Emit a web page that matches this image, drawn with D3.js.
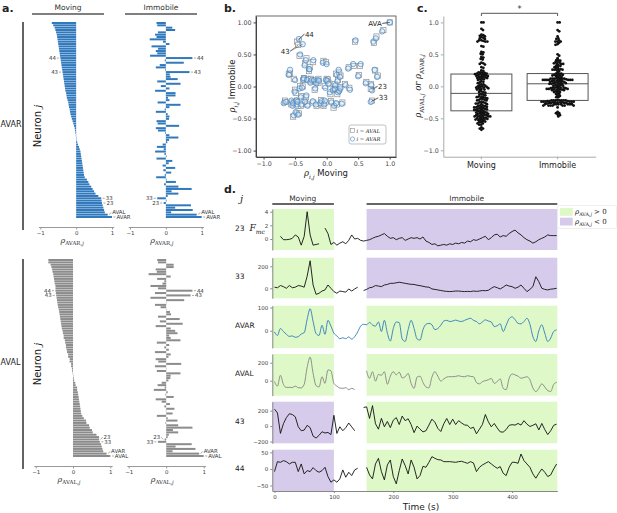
<!DOCTYPE html>
<html>
<head>
<meta charset="utf-8">
<script src="https://cdn.jsdelivr.net/npm/d3@7"></script>
<style>
  body { margin: 0; background: #fff; }
  svg { display: block; font-family: 'DejaVu Sans', sans-serif; }
</style>
</head>
<body>
<svg width="617" height="513"></svg>
<script>
// neurons, in order of rho(AVAR, j) while moving
const neuronNames = ['44', '43', '33', '23', 'AVAL', 'AVAR'];
const neuronRanks = [15, 21, 75, 77, 82, 83];

const avarMoving = [
  -0.68, -0.64, -0.60, -0.58, -0.56, -0.54, -0.53, -0.52, -0.51, -0.50,
  -0.49, -0.48, -0.47, -0.46, -0.45, -0.44, -0.43, -0.42, -0.41, -0.40,
  -0.39, -0.38, -0.37, -0.36, -0.35, -0.34, -0.33, -0.32, -0.31, -0.30,
  -0.28, -0.27, -0.26, -0.24, -0.22, -0.21, -0.20, -0.18, -0.17, -0.16,
  -0.14, -0.12, -0.10, -0.08, -0.06, -0.04, -0.03, -0.02, -0.01, 0.00,
  0.01, 0.03, 0.05, 0.08, 0.10, 0.12, 0.13, 0.14, 0.15, 0.16,
  0.17, 0.18, 0.19, 0.20, 0.21, 0.22, 0.24, 0.30, 0.34, 0.37,
  0.42, 0.46, 0.50, 0.54, 0.62, 0.70, 0.71, 0.72, 0.74, 0.76,
  0.78, 0.80, 0.88, 1.00
];
const avarImmobile = [
  -0.26, -0.24, 0.18, 0.26, -0.22, -0.30, -0.26, -0.45, -0.08, 0.10,
  -0.40, -0.22, -0.28, -0.24, -0.44, 0.74, -0.03, 0.50, -0.17, -0.28,
  -0.02, 0.66, 0.11, 0.13, 0.33, -0.24, 0.41, -0.14, 0.10, -0.30,
  0.27, 0.27, 0.06, 0.10, -0.23, 0.41, 0.10, -0.03, -0.28, 0.05,
  0.10, 0.09, -0.26, -0.23, 0.37, -0.28, -0.22, -0.02, 0.10, 0.35,
  0.09, 0.04, -0.09, -0.25, -0.06, -0.30, -0.04, 0.02, -0.26, 0.18,
  0.08, -0.09, 0.26, -0.07, 0.15, -0.03, -0.27, 0.02, 0.28, -0.05,
  0.35, 0.72, 0.16, 0.35, 0.05, -0.24, 0.02, -0.06, 0.70, 0.26,
  0.75, 0.15, 0.86, 1.00
];
const avalMoving = [
  -0.66, -0.66, -0.58, -0.60, -0.55, -0.56, -0.51, -0.53, -0.50, -0.52,
  -0.47, -0.49, -0.46, -0.47, -0.44, -0.47, -0.42, -0.43, -0.40, -0.41,
  -0.38, -0.45, -0.36, -0.37, -0.34, -0.35, -0.32, -0.33, -0.30, -0.31,
  -0.27, -0.28, -0.25, -0.25, -0.21, -0.22, -0.19, -0.19, -0.16, -0.17,
  -0.13, -0.13, -0.09, -0.09, -0.05, -0.05, -0.02, -0.03, 0.00, -0.01,
  0.02, 0.03, 0.06, 0.07, 0.11, 0.11, 0.14, 0.13, 0.16, 0.15,
  0.18, 0.17, 0.20, 0.19, 0.22, 0.21, 0.25, 0.29, 0.35, 0.36,
  0.43, 0.45, 0.51, 0.53, 0.63, 0.72, 0.70, 0.70, 0.75, 0.77,
  0.79, 0.81, 1.00, 0.90
];
const avalImmobile = [
  -0.24, -0.22, 0.20, 0.20, -0.25, -0.28, -0.24, -0.47, -0.05, 0.12,
  -0.42, -0.10, -0.30, -0.22, -0.42, 0.70, 0.01, 0.48, -0.15, -0.30,
  0.00, 0.65, 0.13, 0.10, 0.36, -0.22, 0.44, -0.17, 0.12, -0.28,
  0.30, 0.24, 0.08, 0.12, -0.25, 0.38, 0.08, -0.05, -0.30, 0.07,
  0.12, 0.06, -0.28, -0.21, 0.40, -0.30, -0.25, 0.01, 0.12, 0.38,
  0.11, 0.06, -0.12, -0.23, -0.04, -0.33, -0.02, 0.04, -0.28, 0.20,
  0.10, -0.12, 0.22, -0.05, 0.17, -0.01, -0.25, 0.04, 0.30, -0.02,
  0.32, 0.70, 0.18, 0.32, 0.07, -0.22, 0.04, -0.04, 0.68, 0.25,
  0.78, 0.17, 1.00, 0.88
];

// time traces (panel d), one sample every 5 s
const sampleTimes = [
  0, 5, 10, 15, 20, 25, 30, 35, 40, 45, 50, 55, 60, 65, 70, 75, 80, 85, 90, 95,
  100, 105, 110, 115, 120, 125, 130, 135, 140, 145, 150, 155, 160, 165, 170, 175, 180, 185, 190, 195,
  200, 205, 210, 215, 220, 225, 230, 235, 240, 245, 250, 255, 260, 265, 270, 275, 280, 285, 290, 295,
  300, 305, 310, 315, 320, 325, 330, 335, 340, 345, 350, 355, 360, 365, 370, 375, 380, 385, 390, 395,
  400, 405, 410, 415, 420, 425, 430, 435, 440, 445, 450, 455, 460, 465, 470, 475
];
const trace23 = [
  null, null, 0.4, -0.1, -0.1, -0.05, 0.1, 0.6, 0.3, -0.9,
  0.4, 4.0, 0.6, -0.9, -0.8, -0.7, null, 1.6, 0.8, -0.8,
  -0.5, -0.9, -0.6, -0.4, -0.7, -0.2, 0.6, 0.0, 0.1, -0.2,
  -0.3, -0.2, -0.1, 0.1, 0.3, 0.4, 0.6, 0.8, 0.4, 0.1,
  0.2, -0.1, 0.1, 0.2, -0.2, 0.0, 0.2, 0.1, 0.2, 0.0,
  0.3, -0.3, -0.5, -0.8, -0.7, -1.0, -0.9, -0.8, -0.9, -0.7,
  -0.8, -0.6, -0.7, -0.5, -0.6, -0.3, -0.4, -0.1, -0.2, 0.0,
  0.2, 0.4, -0.1, 0.2, 0.6, 0.7, 0.3, 0.5, 0.4, 0.8,
  1.1, 1.3, 0.9, 0.6, 0.2, -0.1, -0.3, -0.6, -0.4, -0.1,
  0.1, 0.3, 0.6, 0.5, 0.5, 0.5
];
const trace33 = [
  10, 5, 25, 15, 0, 25, 5, 10, 25, 20,
  10, 110, 250, 30, -55, -45, -25, -15, 30, 0,
  -30, -45, -25, -30, -35, -6, -25, -6, 10, null,
  -20, -10, 5, 10, 25, 20, 15, 30, 35, 45,
  45, 50, 55, 50, 45, 40, 36, 35, 28, 24,
  18, 12, 10, -6, -10, -15, -20, -25, -28, -30,
  -28, -25, -25, -28, -30, -28, -30, -25, -28, -25,
  -20, -22, -18, 0, 15, 5, -6, 10, 30, 20,
  15, 0, 10, 30, 0, -30, -10, 15, 105, 60,
  0, -10, -15, -8, -5, 0
];
const traceAVAR = [
  -5, -20, 10, -3, -15, -24, -22, -28, -25, -14,
  -8, 50, 95, 40, -12, -20, 24, -15, 45, 20,
  -10, -22, -34, -30, -34, -26, -36, -25, -5, 20,
  28, 26, 36, 25, 20, 38, -3, 45, -10, -44,
  10, 38, 35, -35, -46, 5, 45, 10, -35, -40,
  5, 28, 32, 26, 5, 10, 24, 42, 45, 40,
  42, 46, 42, 40, 45, 50, 54, 45, 40, 30,
  38, 47, 42, 38, 18, 22, 30, -3, 24, 52,
  60, 48, 32, 30, 40, 54, 28, -25, -46, 0,
  26, -10, -46, -31, -3, 4
];
const traceAVAL = [
  -10, -60, 60, -41, -75, -74, -76, -60, -78, -80,
  -40, 150, 262, 81, -55, -70, 44, -30, 120, 110,
  -30, -60, -82, -85, -78, -100, -85, -100, null, null,
  null, 110, 26, 100, -5, 70, 60, 100, -40, 50,
  100, 65, 95, 30, 44, 81, -30, -85, 40, 50,
  -20, -70, -80, 40, 100, 50, -5, 20, 40, 45,
  44, 48, 55, 46, 44, 55, 48, 44, -20, -35,
  -11, 0, 10, 25, -30, -10, 20, -85, -100, 26,
  75, 65, 50, 28, 35, 44, 10, -80, -122, -85,
  -35, -70, -110, -120, -41, -18
];
const trace43 = [
  220, 170, -95, 30, 110, 160, 150, 120, -9, -60,
  -52, 10, -20, -130, -155, -120, -73, -90, -82, -110,
  140, -95, -9, -60, -20, 40, -10, -60, null, null,
  240, 250, 99, 265, 30, -40, 100, -9, 60, -20,
  77, 110, 20, 130, 70, 95, 20, -85, 0, -40,
  -75, -60, 13, 90, 50, -30, -70, 30, 99, 20,
  90, 20, 70, 40, 15, 10, -30, -15, -100, -40,
  20, 150, 56, -9, 34, -25, -75, -78, -45, 10,
  18, 13, 34, 13, 70, 25, -5, 10, 30, -50,
  34, -45, -110, -60, 10, 25
];
const trace44 = [
  -8, 22, 20, 25, 22, 15, 20, 20, -8, 15,
  -15, -5, -8, 4, -5, -10, -5, 5, -23, -40,
  -33, -40, -30, -3, -25, -10, -20, -3, 2, null,
  null, 5, -18, -30, 15, 32, -8, -33, 12, 27,
  -23, -45, -5, 30, 10, -15, 27, 5, -30, -20,
  8, 5, 20, 37, 32, 28, 27, 22, 22, 22,
  21, 20, 22, 23, 20, 17, 22, 18, -8, 5,
  12, 17, 22, 15, 8, 2, 7, -13, -20, 5,
  20, 20, 17, 45, 25, 15, 5, -15, -28, -13,
  0, -10, -23, -18, 0, 15
];
const periodNames = ['Moving', 'Immobile'];
const periodStart = [-3.7, 155];
const periodEnd = [100, 476.1];

const svg = d3.select('svg');
const blue = '#3079bc', grey = '#8c8c8c';
const green = '#def8c8', purple = '#d6cbea';
const serif = 'DejaVu Serif, serif';

// text with sub-scripts: parts = [text, isSub, isItalic, isSans]
function mathText(sel, parts, size) {
  let shift = 0;
  parts.forEach(([t, sub, it, sans]) => {
    const target = sub ? size * 0.3 : 0;
    sel.append('tspan')
      .attr('dy', target - shift)
      .attr('font-size', sub ? size * 0.68 : size)
      .attr('font-style', it ? 'italic' : 'normal')
      .attr('font-family', sans ? 'DejaVu Sans, sans-serif' : serif)
      .text(t);
    shift = target;
  });
  return sel;
}

function styleAxis(g, col, fs) {
  g.selectAll('.domain').attr('stroke', col);
  g.selectAll('.tick line').attr('stroke', col);
  g.selectAll('.tick text').attr('fill', '#444').attr('font-size', fs)
    .attr('font-family', 'DejaVu Sans, sans-serif');
}

// panel letters
[['a.', 2, 12], ['b.', 224, 12], ['c.', 417, 12], ['d.', 224, 193]].forEach(([t, x, y]) =>
  svg.append('text').attr('x', x).attr('y', y).attr('font-size', 11)
    .attr('font-weight', 'bold').attr('fill', '#222').text(t));

// ---------- a. ----------
function barBlock(cfg) {
  const idx = d3.range(cfg.moving.length).sort((a, b) => cfg.moving[a] - cfg.moving[b]);
  const y = d3.scaleBand().domain(idx).range([cfg.top, cfg.bottom]).paddingInner(0.15);
  [[cfg.moving, cfg.movingX], [cfg.immobile, cfg.immobileX]].forEach(([vals, xr]) => {
    const x = d3.scaleLinear().domain([-1, 1]).range(xr);
    const g = svg.append('g');
    g.selectAll('rect').data(idx).join('rect')
      .attr('x', i => Math.min(x(0), x(vals[i])))
      .attr('y', i => y(i))
      .attr('width', i => Math.max(0.4, Math.abs(x(vals[i]) - x(0))))
      .attr('height', y.bandwidth())
      .attr('fill', cfg.color);

    const labs = neuronRanks.map((r, k) => ({
      name: neuronNames[k], v: vals[r], yb: y(r) + y.bandwidth() / 2
    }));
    [-1, 1].forEach(side => {
      const s = labs.filter(d => (d.v < 0 ? -1 : 1) === side).sort((a, b) => a.yb - b.yb);
      s.forEach(d => { d.ly = d.yb; });
      for (let i = s.length - 2; i >= 0; i--) {
        if (s[i + 1].ly - s[i].ly < 4.6) s[i].ly = s[i + 1].ly - 4.6;
      }
      s.forEach(d => {
        const x0 = x(d.v);
        g.append('line').attr('x1', x0 + side * 1.5).attr('x2', x0 + side * 3.5)
          .attr('y1', d.yb).attr('y2', d.ly).attr('stroke', '#555').attr('stroke-width', 0.5);
        g.append('text').attr('x', x0 + side * 4.5).attr('y', d.ly + 1.9)
          .attr('text-anchor', side < 0 ? 'end' : 'start')
          .attr('font-size', 5.4).attr('fill', '#333').text(d.name);
      });
    });

    const ax = d3.scaleLinear().domain([-1.05, 1.05]).range([x(-1.05), x(1.05)]);
    const axG = g.append('g').attr('transform', `translate(0,${cfg.axisY})`)
      .call(d3.axisBottom(ax).tickValues([-1, 0, 1]).tickSize(2.5).tickSizeOuter(0)
        .tickPadding(2).tickFormat(d => d < 0 ? '−1' : d));
    styleAxis(axG, '#999', 5.5);
    mathText(g.append('text').attr('x', (xr[0] + xr[1]) / 2 - 4).attr('y', cfg.axisY + 15.5)
      .attr('text-anchor', 'middle').attr('fill', '#333'),
      [['ρ', false, true], [cfg.sub + ',', true, false], ['j', true, true]], 8);
  });

  svg.append('line').attr('x1', 23).attr('x2', 23).attr('y1', cfg.top).attr('y2', cfg.axisY + 3)
    .attr('stroke', '#222').attr('stroke-width', 1.4);
  svg.append('text').attr('x', 0.5).attr('y', cfg.nameY).attr('font-size', 8).attr('fill', '#222')
    .text(cfg.name);
  mathText(svg.append('text')
    .attr('transform', `translate(40.5,${cfg.nameY - 1}) rotate(-90)`)
    .attr('text-anchor', 'middle').attr('fill', '#111'),
    [['Neuron ', false, false, true], ['j', false, true]], 10);
}

barBlock({ moving: avarMoving, immobile: avarImmobile, color: blue, top: 22, bottom: 218,
  axisY: 227, movingX: [40.3, 112], immobileX: [130, 201.7], sub: 'AVAR', name: 'AVAR', nameY: 127 });
barBlock({ moving: avalMoving, immobile: avalImmobile, color: grey, top: 259, bottom: 457,
  axisY: 466, movingX: [35.7, 110.3], immobileX: [128.7, 203.7], sub: 'AVAL', name: 'AVAL', nameY: 365 });

[['Moving', 32, 104], ['Immobile', 125, 197]].forEach(([t, x1, x2]) => {
  svg.append('text').attr('x', (x1 + x2) / 2).attr('y', 10).attr('text-anchor', 'middle')
    .attr('font-size', 7.5).attr('fill', '#333').text(t);
  svg.append('line').attr('x1', x1).attr('x2', x2).attr('y1', 14).attr('y2', 14)
    .attr('stroke', '#555').attr('stroke-width', 1.4);
});

// ---------- b. ----------
{
  const x = d3.scaleLinear().domain([-1.12, 1.1]).range([256, 396]);
  const y = d3.scaleLinear().domain([-1.1, 1.1]).range([157, 16]);
  const g = svg.append('g');
  const xa = g.append('g').attr('transform', 'translate(0,157)')
    .call(d3.axisBottom(x).tickValues([-1, -0.5, 0, 0.5, 1]).tickFormat(d3.format('.1f'))
      .tickSize(2.5).tickSizeOuter(0).tickPadding(2));
  const ya = g.append('g').attr('transform', 'translate(256,0)')
    .call(d3.axisLeft(y).tickValues([-1, -0.5, 0, 0.5, 1]).tickFormat(d3.format('.2f'))
      .tickSize(2.5).tickSizeOuter(0).tickPadding(2));
  styleAxis(xa, '#444', 6.3);
  styleAxis(ya, '#444', 6.3);
  g.append('rect').attr('x', 256).attr('y', 16).attr('width', 140).attr('height', 141)
    .attr('fill', 'none').attr('stroke', '#444').attr('stroke-width', 0.8);

  const idx = d3.range(avarMoving.length);
  g.selectAll('rect.aval').data(idx).join('rect').attr('class', 'aval')
    .attr('x', i => x(avalMoving[i]) - 2.6).attr('y', i => y(avalImmobile[i]) - 2.6)
    .attr('width', 5.2).attr('height', 5.2)
    .attr('fill', 'rgba(255,255,255,0.35)').attr('stroke', '#8f8f8f').attr('stroke-width', 0.7);
  g.selectAll('circle.avar').data(idx).join('circle').attr('class', 'avar')
    .attr('cx', i => x(avarMoving[i])).attr('cy', i => y(avarImmobile[i])).attr('r', 2.7)
    .attr('fill', 'rgba(190,215,240,0.35)').attr('stroke', '#3f86c6').attr('stroke-width', 0.7);

  const notes = [
    { text: 'AVA', avar: 83, aval: 82, dx: -8, dy: 1, anchor: 'end' },
    { text: '44', avar: 15, aval: 15, dx: 6, dy: -5, anchor: 'start' },
    { text: '43', avar: 21, aval: 21, dx: -13, dy: 7, anchor: 'end' },
    { text: '23', avar: 77, aval: 77, dx: 6, dy: -4, anchor: 'start' },
    { text: '33', avar: 75, aval: 75, dx: 8, dy: -4, anchor: 'start' }
  ];
  notes.forEach(n => {
    const px = x(avarMoving[n.avar]), py = y(avarImmobile[n.avar]);
    const lx = px + n.dx, ly = py + n.dy;
    [[px, py], [x(avalMoving[n.aval]), y(avalImmobile[n.aval])]].forEach(([a, b]) =>
      g.append('line').attr('x1', lx + (n.anchor === 'end' ? 0.5 : -0.5)).attr('y1', ly)
        .attr('x2', a).attr('y2', b).attr('stroke', '#333').attr('stroke-width', 0.5));
    g.append('text').attr('x', lx).attr('y', ly + 2.5).attr('text-anchor', n.anchor)
      .attr('font-size', 7).attr('fill', '#222').text(n.text);
  });

  // legend
  g.append('rect').attr('x', 349).attr('y', 125).attr('width', 37).attr('height', 19).attr('rx', 2)
    .attr('fill', '#fff').attr('stroke', '#999').attr('stroke-width', 0.6);
  g.append('rect').attr('x', 350.5).attr('y', 128.6).attr('width', 4).attr('height', 4)
    .attr('fill', 'none').attr('stroke', '#8f8f8f').attr('stroke-width', 0.6);
  g.append('circle').attr('cx', 352.5).attr('cy', 139).attr('r', 2.1)
    .attr('fill', 'none').attr('stroke', '#3f86c6').attr('stroke-width', 0.6);
  [['AVAL', 132.6], ['AVAR', 141.2]].forEach(([t, yy]) =>
    mathText(g.append('text').attr('x', 356.5).attr('y', yy).attr('fill', '#222'),
      [['i', false, true], [' = ', false, false], [t, false, true]], 5.2));

  mathText(g.append('text').attr('x', 326).attr('y', 176).attr('text-anchor', 'middle').attr('fill', '#222'),
    [['ρ', false, true], ['i,j', true, true], [' Moving', false, false, true]], 8.5);
  mathText(g.append('text').attr('transform', 'translate(235,86) rotate(-90)')
    .attr('text-anchor', 'middle').attr('fill', '#222'),
    [['ρ', false, true], ['i,j', true, true], [' Immobile', false, false, true]], 8.5);
}

// ---------- c. ----------
{
  const y = d3.scaleLinear().domain([-1.1, 1.1]).range([156.7, 16]);
  const x = d3.scaleBand().domain(periodNames).range([443.3, 595.7]);
  const g = svg.append('g');
  const groups = [avarMoving.concat(avalMoving), avarImmobile.concat(avalImmobile)];
  const r = 1.4, gap = 2.05;

  groups.forEach((vals, k) => {
    const cx = x(periodNames[k]) + x.bandwidth() / 2;
    const s = vals.slice().sort(d3.ascending);
    const q1 = d3.quantile(s, 0.25), med = d3.quantile(s, 0.5), q3 = d3.quantile(s, 0.75);
    const bw = x.bandwidth() * 0.8;
    g.append('rect').attr('x', cx - bw / 2).attr('y', y(q3)).attr('width', bw)
      .attr('height', y(q1) - y(q3)).attr('fill', '#fff').attr('stroke', '#555').attr('stroke-width', 1);
    g.append('line').attr('x1', cx - bw / 2).attr('x2', cx + bw / 2)
      .attr('y1', y(med)).attr('y2', y(med)).attr('stroke', '#555').attr('stroke-width', 1);

    // beeswarm placement
    const pts = vals.map(v => ({ v, y: y(v) })).sort((a, b) => a.y - b.y);
    const placed = [];
    pts.forEach(p => {
      const near = placed.filter(q => Math.abs(q.y - p.y) < gap);
      const cands = [0];
      near.forEach(q => {
        const dx = Math.sqrt(gap * gap - (p.y - q.y) ** 2);
        cands.push(q.dx + dx, q.dx - dx);
      });
      cands.sort((a, b) => Math.abs(a) - Math.abs(b));
      p.dx = cands.find(c => near.every(q => (q.dx - c) ** 2 + (q.y - p.y) ** 2 >= gap * gap - 0.01));
      placed.push(p);
    });
    g.selectAll(null).data(placed).join('circle')
      .attr('cx', d => cx + d.dx).attr('cy', d => d.y).attr('r', r).attr('fill', '#111');
  });

  const ya = g.append('g').attr('transform', 'translate(443.3,0)')
    .call(d3.axisLeft(y).tickValues([-1, -0.5, 0, 0.5, 1]).tickFormat(d3.format('.1f'))
      .tickSize(2.5).tickSizeOuter(0).tickPadding(2));
  styleAxis(ya, '#aaa', 6.3);
  const xa = g.append('g').attr('transform', 'translate(0,156.7)')
    .call(d3.axisBottom(x).tickSize(2.5).tickSizeOuter(0).tickPadding(3));
  styleAxis(xa, '#aaa', 8);
  xa.selectAll('.tick text').attr('fill', '#222');

  const c1 = x('Moving') + x.bandwidth() / 2, c2 = x('Immobile') + x.bandwidth() / 2;
  g.append('path').attr('d', `M${c1},16V13.3H${c2}V16`).attr('fill', 'none')
    .attr('stroke', '#555').attr('stroke-width', 1);
  g.append('text').attr('x', (c1 + c2) / 2).attr('y', 11.5).attr('text-anchor', 'middle')
    .attr('font-size', 8).attr('fill', '#333').text('*');
  mathText(g.append('text').attr('transform', 'translate(421,86) rotate(-90)')
    .attr('text-anchor', 'middle').attr('fill', '#222'),
    [['ρ', false, true], ['AVAL,', true], ['j', true, true], [' or ', false, true],
     ['ρ', false, true], ['AVAR,', true], ['j', true, true]], 8.5);
}

// ---------- d. ----------
{
  const x = d3.scaleLinear().domain([-3.7, 476.1]).range([272.3, 557.3]);
  const rows = [
    { name: '23', vals: trace23, rank: 77, top: 209, bot: 250, dom: [-1.61, 4.4], ticks: [0, 2, 4], color: '#111', smooth: false },
    { name: '33', vals: trace33, rank: 75, top: 257.7, bot: 298.3, dom: [-91, 278], ticks: [0, 200], color: '#111', smooth: false },
    { name: 'AVAR', vals: traceAVAR, rank: 83, top: 305.7, bot: 348, dom: [-74, 108], ticks: [0, 100], color: '#2f7ab8', smooth: true },
    { name: 'AVAL', vals: traceAVAL, rank: 82, top: 354, bot: 395.7, dom: [-167, 297], ticks: [0, 200], color: '#858585', smooth: true },
    { name: '43', vals: trace43, rank: 21, top: 401.7, bot: 443.3, dom: [-223, 316], ticks: [-200, 0, 200], color: '#111', smooth: false },
    { name: '44', vals: trace44, rank: 15, top: 449.7, bot: 491, dom: [-66.5, 58], ticks: [-50, 0, 50], color: '#111', smooth: false }
  ];
  const g = svg.append('g');
  rows.forEach(row => {
    const y = d3.scaleLinear().domain(row.dom).range([row.bot, row.top]);
    const rho = [avarMoving[row.rank], avarImmobile[row.rank]];
    periodNames.forEach((p, k) => {
      g.append('rect').attr('x', x(periodStart[k])).attr('y', row.top)
        .attr('width', x(periodEnd[k]) - x(periodStart[k])).attr('height', row.bot - row.top)
        .attr('fill', rho[k] > 0 ? green : purple);
    });
    const line = d3.line().defined(d => d != null)
      .x((d, i) => x(sampleTimes[i])).y(d => y(d))
      .curve(row.smooth ? d3.curveMonotoneX : d3.curveLinear);
    g.append('path').attr('d', line(row.vals)).attr('fill', 'none')
      .attr('stroke', row.color).attr('stroke-width', 0.9).attr('stroke-linejoin', 'round');
    const ya = g.append('g').attr('transform', 'translate(272.3,0)')
      .call(d3.axisLeft(y).tickValues(row.ticks).tickSize(2).tickSizeOuter(0).tickPadding(2)
        .tickFormat(d3.format('d')));
    styleAxis(ya, '#888', 5.5);
    g.append('text').attr('x', 235).attr('y', (row.top + row.bot) / 2 + 1)
      .attr('font-size', 7.5).attr('fill', '#222').text(row.name);
  });
  mathText(g.append('text').attr('x', 249.5).attr('y', 231).attr('fill', '#222'),
    [['F', false, true], ['mc', true, true]], 9);
  g.append('text').attr('x', 240).attr('y', 202).attr('font-size', 10).attr('font-style', 'italic')
    .attr('font-family', serif).attr('fill', '#222').text('j');

  const xa = g.append('g').attr('transform', 'translate(0,491)')
    .call(d3.axisBottom(x).tickValues([0, 100, 200, 300, 400]).tickSize(2).tickSizeOuter(0).tickPadding(2));
  styleAxis(xa, '#888', 5.5);
  g.append('text').attr('x', 421).attr('y', 510).attr('text-anchor', 'middle')
    .attr('font-size', 9).attr('fill', '#222').text('Time (s)');

  [[0, 302.7], [1, 466.7]].forEach(([k, tx]) => {
    g.append('text').attr('x', tx).attr('y', 200.5).attr('text-anchor', 'middle')
      .attr('font-size', 7.5).attr('fill', '#333').text(periodNames[k]);
    g.append('line').attr('x1', x(periodStart[k])).attr('x2', x(periodEnd[k]))
      .attr('y1', 204).attr('y2', 204).attr('stroke', '#333').attr('stroke-width', 1.3);
  });

  // legend
  g.append('rect').attr('x', 557.5).attr('y', 205.5).attr('width', 59).attr('height', 23).attr('rx', 2)
    .attr('fill', '#fff').attr('stroke', '#e4e4e4').attr('stroke-width', 0.6);
  [[green, '>', 208], [purple, '<', 217.7]].forEach(([c, op, yy]) => {
    g.append('rect').attr('x', 560).attr('y', yy).attr('width', 12.7).attr('height', 7.8).attr('fill', c);
    mathText(g.append('text').attr('x', 575).attr('y', yy + 6.3).attr('fill', '#222'),
      [['ρ', false, true], ['AVA,', true], ['j', true, true], [' ' + op + ' 0', false, false]], 7);
  });
}
</script>
</body>
</html>
